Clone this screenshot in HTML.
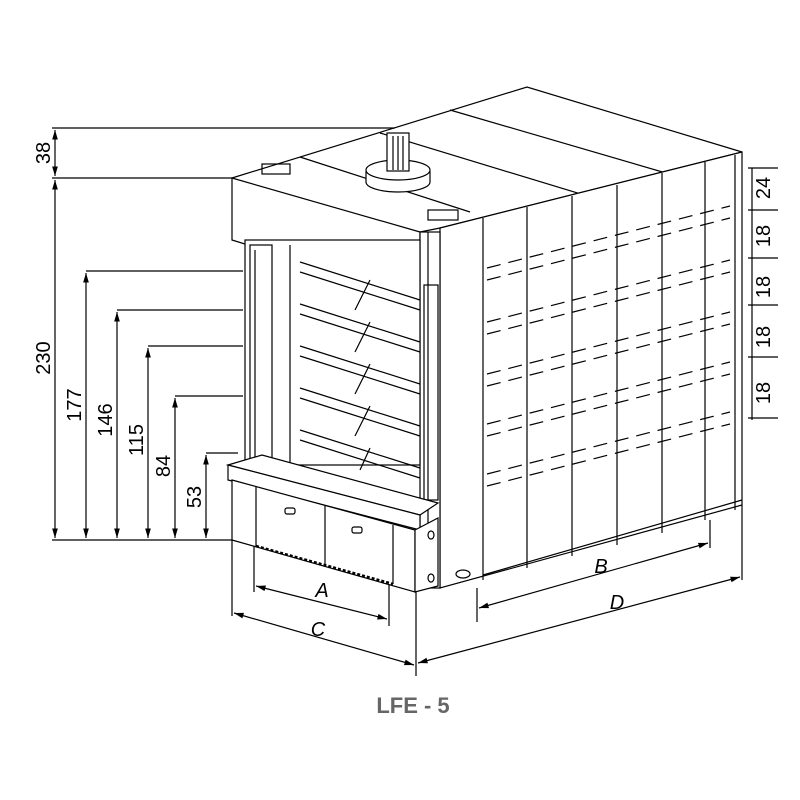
<!DOCTYPE html>
<html><head><style>html,body{margin:0;padding:0;background:#fff}svg{display:block}</style></head>
<body>
<svg width="800" height="800" viewBox="0 0 800 800" xmlns="http://www.w3.org/2000/svg" font-family="Liberation Sans, sans-serif">
<defs>
<marker id="ar" viewBox="0 0 10 10" refX="10" refY="5" markerWidth="8" markerHeight="8" orient="auto-start-reverse"><path d="M0,2 L10,5 L0,8z" fill="#000"/></marker>
</defs>
<g stroke="#000" stroke-width="1.2" fill="none">
<!-- left dimension lines -->
<line x1="52" y1="128" x2="395" y2="128"/>
<line x1="52" y1="178" x2="232" y2="178"/>
<line x1="52" y1="540" x2="232" y2="540"/>
<line x1="55" y1="130" x2="55" y2="176" marker-start="url(#ar)" marker-end="url(#ar)"/>
<line x1="55" y1="180" x2="55" y2="538" marker-start="url(#ar)" marker-end="url(#ar)"/>
<polyline points="243,271 86,271"/><line x1="86" y1="273" x2="86" y2="538" marker-start="url(#ar)" marker-end="url(#ar)"/>
<polyline points="243,310 117,310"/><line x1="117" y1="312" x2="117" y2="538" marker-start="url(#ar)" marker-end="url(#ar)"/>
<polyline points="243,346 148,346"/><line x1="148" y1="348" x2="148" y2="538" marker-start="url(#ar)" marker-end="url(#ar)"/>
<polyline points="243,396 175,396"/><line x1="175" y1="398" x2="175" y2="538" marker-start="url(#ar)" marker-end="url(#ar)"/>
<polyline points="238,453 206,453"/><line x1="206" y1="455" x2="206" y2="538" marker-start="url(#ar)" marker-end="url(#ar)"/>

<!-- top surface -->
<polyline points="232,178 527,87 742,152"/>
<line x1="440" y1="228" x2="742" y2="152"/>
<line x1="380" y1="133" x2="640" y2="212"/>
<line x1="450" y1="110" x2="690" y2="180"/>
<line x1="300" y1="157" x2="470" y2="212"/>
<!-- cap -->
<polygon points="232,178 420,232 420,298 232,240" fill="#fff"/>
<line x1="420" y1="232" x2="440" y2="228"/>
<rect x="262" y="164" width="28" height="10"/>
<rect x="428" y="210" width="30" height="10"/>
<!-- motor -->
<ellipse cx="398" cy="182" rx="32" ry="10" fill="#fff"/>
<path d="M366,182 L366,172 A32,10 0 0 1 430,172 L430,182" fill="#fff"/>
<ellipse cx="398" cy="170" rx="32" ry="10" fill="#fff"/>
<rect x="387" y="133" width="22" height="38" fill="#fff"/>
<line x1="393" y1="136" x2="393" y2="170"/><line x1="398" y1="136" x2="398" y2="170"/><line x1="403" y1="136" x2="403" y2="170"/>
<!-- right face -->
<polygon points="440,228 742,152 742,505 440,588" fill="#fff"/>
<line x1="483" y1="218" x2="483" y2="580"/>
<line x1="527" y1="207" x2="527" y2="568"/>
<line x1="572" y1="196" x2="572" y2="556"/>
<line x1="617" y1="185" x2="617" y2="545"/>
<line x1="662" y1="173" x2="662" y2="533"/>
<line x1="705" y1="162" x2="705" y2="520"/>
<line x1="735" y1="155" x2="735" y2="510"/>
<line x1="483" y1="575" x2="742" y2="500"/>
<!-- front pillar -->
<rect x="420" y="232" width="20" height="356" fill="#fff"/>
<line x1="428" y1="232" x2="428" y2="588"/>
<rect x="424" y="285" width="14" height="215"/>
<ellipse cx="463" cy="574" rx="7" ry="4"/>
<!-- opening -->
<rect x="245" y="240" width="175" height="225" fill="#fff"/>
<rect x="250" y="245" width="22" height="218"/>
<line x1="255" y1="250" x2="255" y2="458"/>
<line x1="290" y1="245" x2="290" y2="465"/>
<path d="M300,262 L420,300 M300,272 L420,310 M300,304 L420,342 M300,314 L420,352 M300,346 L420,384 M300,356 L420,394 M300,388 L420,426 M300,398 L420,436 M300,430 L420,468 M300,440 L420,478"/>
<path d="M370,280 L355,310 M370,322 L355,352 M370,364 L355,394 M370,406 L355,436 M370,448 L360,470"/>
<!-- base shelf -->
<polygon points="228,465 262,455 438,503 420,515" fill="#fff"/>
<polygon points="228,465 420,515 420,530 228,480" fill="#fff"/>
<!-- drawers -->
<polygon points="232,480 415,530 415,592 232,540" fill="#fff"/>
<polygon points="415,530 438,518 438,586 415,592" fill="#fff"/>
<line x1="256" y1="487" x2="256" y2="546"/>
<line x1="325" y1="506" x2="325" y2="564"/>
<line x1="393" y1="525" x2="393" y2="584"/>
<line x1="256" y1="546" x2="393" y2="584" stroke-width="2.5" stroke-dasharray="3 2"/>
<rect x="285" y="508" width="10" height="6" rx="2"/>
<rect x="352" y="527" width="10" height="6" rx="2"/>
<ellipse cx="431" cy="535" rx="3" ry="4"/><ellipse cx="431" cy="578" rx="3" ry="4"/>
<!-- bottom dims -->
<line x1="254" y1="546" x2="254" y2="592"/>
<line x1="389" y1="584" x2="389" y2="626"/>
<line x1="256" y1="586" x2="387" y2="619" marker-start="url(#ar)" marker-end="url(#ar)"/>
<line x1="232" y1="540" x2="232" y2="616"/>
<line x1="416" y1="592" x2="416" y2="676"/>
<line x1="234" y1="613" x2="414" y2="665" marker-start="url(#ar)" marker-end="url(#ar)"/>
<line x1="477" y1="588" x2="477" y2="622"/>
<line x1="710" y1="520" x2="710" y2="548"/>
<line x1="479" y1="608" x2="708" y2="543" marker-start="url(#ar)" marker-end="url(#ar)"/>
<line x1="742" y1="505" x2="742" y2="580"/>
<line x1="418" y1="663" x2="740" y2="577" marker-start="url(#ar)" marker-end="url(#ar)"/>
<!-- right dims -->
<line x1="752" y1="168" x2="752" y2="420"/>
<path d="M748,168 h30 M748,210 h30 M748,258 h30 M748,305 h30 M748,357 h30 M748,418 h30"/>
</g>
<!-- dashed slots on right face -->
<g stroke="#000" stroke-width="1.2" stroke-dasharray="14 8" fill="none">
<line x1="487" y1="268" x2="730" y2="206"/><line x1="487" y1="280" x2="730" y2="218"/>
<line x1="487" y1="322" x2="730" y2="260"/><line x1="487" y1="334" x2="730" y2="272"/>
<line x1="487" y1="374" x2="730" y2="312"/><line x1="487" y1="386" x2="730" y2="324"/>
<line x1="487" y1="424" x2="730" y2="362"/><line x1="487" y1="436" x2="730" y2="374"/>
<line x1="487" y1="474" x2="730" y2="412"/><line x1="487" y1="486" x2="730" y2="424"/>
</g>
<g font-size="20" fill="#000" text-anchor="middle">
<text transform="translate(50,153) rotate(-90)" dy="0">38</text>
<text transform="translate(50,358) rotate(-90)">230</text>
<text transform="translate(81,405) rotate(-90)">177</text>
<text transform="translate(112,420) rotate(-90)">146</text>
<text transform="translate(143,440) rotate(-90)">115</text>
<text transform="translate(170,466) rotate(-90)">84</text>
<text transform="translate(201,497) rotate(-90)">53</text>
<text transform="translate(770,188) rotate(-90)">24</text>
<text transform="translate(770,236) rotate(-90)">18</text>
<text transform="translate(770,287) rotate(-90)">18</text>
<text transform="translate(770,337) rotate(-90)">18</text>
<text transform="translate(770,393) rotate(-90)">18</text>
<text x="322" y="597" font-style="italic">A</text>
<text x="318" y="636" font-style="italic">C</text>
<text x="601" y="573" font-style="italic">B</text>
<text x="617" y="609" font-style="italic">D</text>
</g>
<text x="413" y="713" text-anchor="middle" font-size="22" font-weight="bold" fill="#666">LFE - 5</text>
</svg>
</body></html>
